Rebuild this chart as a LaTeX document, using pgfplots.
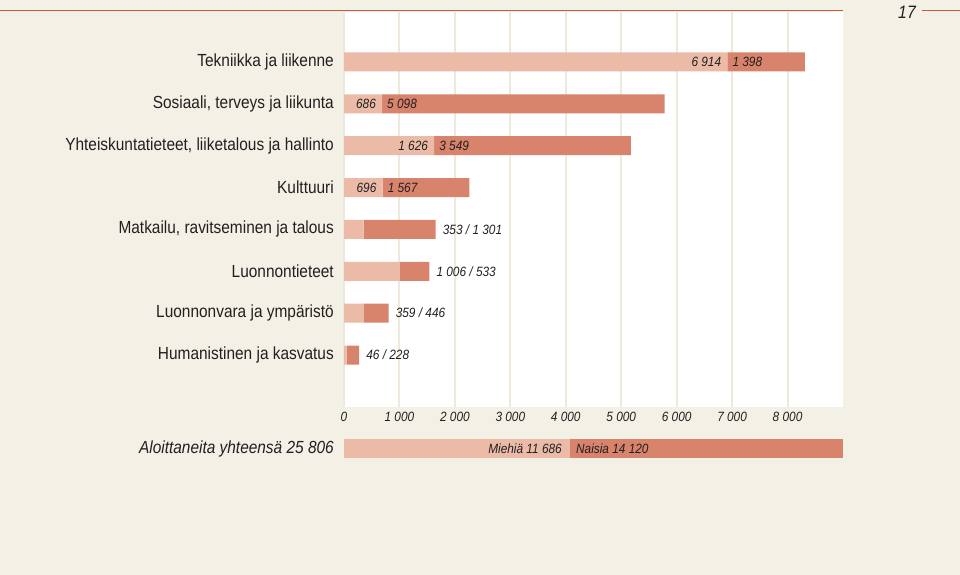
\documentclass[border=0pt]{standalone}
\usepackage{fontspec}
\setmainfont{Liberation Sans}[FakeStretch=0.88]
\usepackage{pgfplots}
\usepackage{pgfplotstable}
\pgfplotsset{compat=1.18}

\definecolor{bgc}{HTML}{F3F0E5}
\definecolor{gridc}{HTML}{EEE9DA}
\definecolor{lightc}{HTML}{EBBBA8}
\definecolor{darkc}{HTML}{D8836C}
\definecolor{redline}{HTML}{D4553F}
\definecolor{txt}{HTML}{231F20}

% aloittaneet: miehet / naiset
\pgfplotstableread{
y men women
8 6914 1398
7 686 5098
6 1626 3549
5 696 1567
4 353 1301
3 1006 533
2 359 446
1 46 228
}\datatable

\pgfplotstableread{
y men women
1 11686 14120
}\totaltable

\newcommand{\catfont}{\fontsize{17.6}{19}\selectfont}
\newcommand{\numfont}{\itshape\fontsize{13.5}{15}\selectfont}

\begin{document}
\begin{tikzpicture}
\fill[bgc] (0,0) rectangle (960bp,575bp);
\useasboundingbox (0,0) rectangle (960bp,575bp);
\draw[redline, line width=1bp] (0,564bp) -- (843bp,564bp);
\draw[redline, line width=1bp] (922bp,564bp) -- (960bp,564bp);
\node[txt, anchor=center, font=\itshape\fontsize{18}{20}\selectfont] at (907bp,563bp) {17};

\begin{axis}[
    at={(344bp,168bp)}, anchor=south west,
    scale only axis, width=499bp, height=395bp,
    xmin=0, xmax=9000, ymin=-0.242, ymax=9.194,
    xbar stacked, bar width=19bp,
    axis background/.style={fill=white},
    axis line style={draw=none},
    major tick length=0pt,
    xtick={0,1000,...,8000},
    xticklabels={0,1 000,2 000,3 000,4 000,5 000,6 000,7 000,8 000},
    xticklabel style={text=txt, font=\numfont, anchor=north, inner sep=0pt, yshift=-5bp},
    xmajorgrids, grid style={gridc, line width=2bp},
    ytick={1,...,8},
    yticklabels={Humanistinen ja kasvatus, Luonnonvara ja ympäristö, Luonnontieteet,
      {Matkailu, ravitseminen ja talous}, Kulttuuri,
      {Yhteiskuntatieteet, liiketalous ja hallinto},
      {Sosiaali, terveys ja liikunta}, Tekniikka ja liikenne},
    yticklabel style={text=txt, font=\catfont, anchor=east, inner sep=0pt, xshift=-10bp},
    clip=false,
]
\addplot[fill=lightc, draw=none] table[x=men, y=y] {\datatable};
\addplot[fill=darkc, draw=none] table[x=women, y=y] {\datatable};
\coordinate (b8) at (axis cs:6914,8);
\coordinate (b7) at (axis cs:686,7);
\coordinate (b6) at (axis cs:1626,6);
\coordinate (b5) at (axis cs:696,5);
\coordinate (e4) at (axis cs:1654,4);
\coordinate (e3) at (axis cs:1539,3);
\coordinate (e2) at (axis cs:805,2);
\coordinate (e1) at (axis cs:274,1);
\end{axis}

\begin{axis}[
    at={(344bp,117bp)}, anchor=south west,
    scale only axis, width=499bp, height=19bp,
    xmin=0, xmax=25806, ymin=0.5, ymax=1.5,
    xbar stacked, bar width=19bp,
    axis line style={draw=none},
    major tick length=0pt,
    xtick=\empty,
    ytick={1}, yticklabels={Aloittaneita yhteensä 25 806},
    yticklabel style={text=txt, font=\itshape\fontsize{17.6}{19}\selectfont, anchor=east, inner sep=0pt, xshift=-10bp},
    clip=false,
]
\addplot[fill=lightc, draw=none] table[x=men, y=y] {\totaltable};
\addplot[fill=darkc, draw=none] table[x=women, y=y] {\totaltable};
\coordinate (bt) at (axis cs:11686,1);
\end{axis}

\begin{scope}[every node/.style={text=txt, font=\numfont, inner sep=0pt}]
\node[anchor=east, xshift=-6bp] at (b8) {6 914};
\node[anchor=west, xshift=5bp] at (b8) {1 398};
\node[anchor=east, xshift=-6bp] at (b7) {686};
\node[anchor=west, xshift=5bp] at (b7) {5 098};
\node[anchor=east, xshift=-6bp] at (b6) {1 626};
\node[anchor=west, xshift=5bp] at (b6) {3 549};
\node[anchor=east, xshift=-6bp] at (b5) {696};
\node[anchor=west, xshift=5bp] at (b5) {1 567};
\node[anchor=west, xshift=7bp] at (e4) {353 / 1 301};
\node[anchor=west, xshift=7bp] at (e3) {1 006 / 533};
\node[anchor=west, xshift=7bp] at (e2) {359 / 446};
\node[anchor=west, xshift=7bp] at (e1) {46 / 228};
\node[anchor=east, xshift=-8bp] at (bt) {Miehiä 11 686};
\node[anchor=west, xshift=6bp] at (bt) {Naisia 14 120};
\end{scope}
\end{tikzpicture}
\end{document}
